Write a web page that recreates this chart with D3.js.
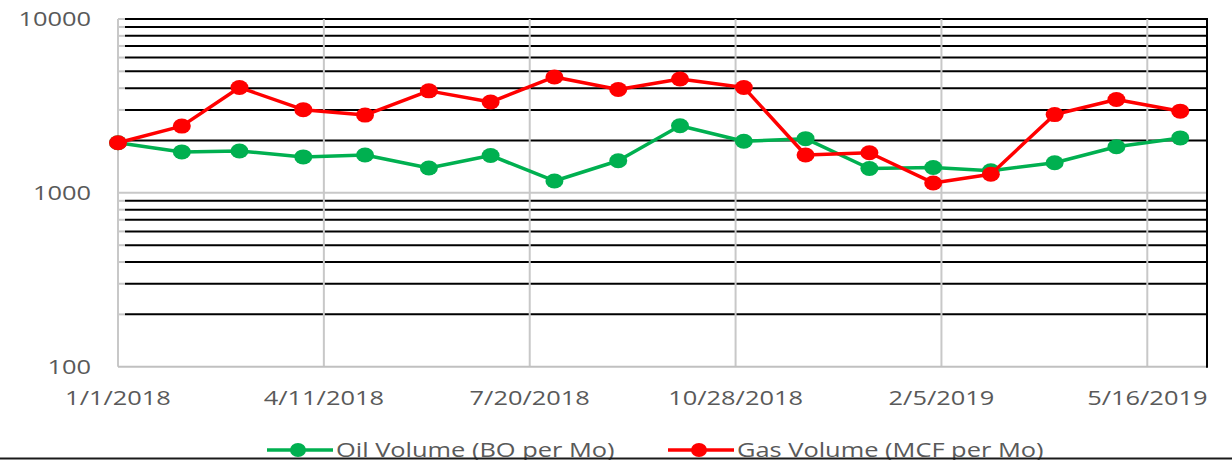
<!DOCTYPE html>
<html>
<head>
<meta charset="utf-8">
<script src="https://cdn.jsdelivr.net/npm/d3@7"></script>
<style>
  body { margin: 0; background: #fff; }
  svg { display: block; }
  text { font-family: "Open Sans", "Liberation Sans", sans-serif; fill: #595959; }
</style>
</head>
<body>
<script>
// monthly production, first of each month
var months = ["2018-01-01","2018-02-01","2018-03-01","2018-04-01","2018-05-01","2018-06-01",
              "2018-07-01","2018-08-01","2018-09-01","2018-10-01","2018-11-01","2018-12-01",
              "2019-01-01","2019-02-01","2019-03-01","2019-04-01","2019-05-01","2019-06-01"];
var oilVolume = [1940, 1720, 1740, 1610, 1650, 1390, 1640, 1170, 1530, 2430, 1980, 2050,
                 1380, 1400, 1340, 1490, 1840, 2070];
var gasVolume = [1940, 2420, 4040, 3010, 2800, 3860, 3330, 4640, 3930, 4520, 4040, 1650,
                 1700, 1140, 1280, 2820, 3440, 2950];
var seriesNames = ["Oil Volume (BO per Mo)", "Gas Volume (MCF per Mo)"];
var yTickLabels = [100, 1000, 10000];

var w = 1232, h = 460;
var plotL = 118, plotR = 1207, plotT = 19, plotB = 366.7;
var stretch = 1.27; //text in the picture is wide

var parse = d3.utcParse("%Y-%m-%d");
var startDate = parse("2018-01-01");
var endDate = d3.utcDay.offset(startDate, 529);

var svg = d3.select("body").append("svg")
    .attr("width", w)
    .attr("height", h);

var x = d3.scaleUtc().domain([startDate, endDate]).range([plotL, plotR]);
var y = d3.scaleLog().domain([100, 10000]).range([plotB, plotT]);

//x ticks every 100 days
var xTicks = d3.range(0, 600, 100).map(function(d){ return d3.utcDay.offset(startDate, d); });
var fmt = d3.utcFormat("%-m/%-d/%Y");

//minor gridlines (black)
var minor = y.ticks().filter(function(d){ return yTickLabels.indexOf(d) < 0; });
svg.append("g").selectAll("line")
    .data(minor)
    .enter().append("line")
    .attr("x1", plotL + 7).attr("x2", plotR)
    .attr("y1", function(d){ return y(d); })
    .attr("y2", function(d){ return y(d); })
    .style("stroke", "#000").style("stroke-width", 2);
//little grey minor ticks at left
svg.append("g").selectAll("line")
    .data(minor)
    .enter().append("line")
    .attr("x1", plotL).attr("x2", plotL + 7)
    .attr("y1", function(d){ return y(d); })
    .attr("y2", function(d){ return y(d); })
    .style("stroke", "#c8c8c8").style("stroke-width", 2);

//major gridline at 1000 (grey), top border black
svg.append("line")
    .attr("x1", plotL).attr("x2", plotR)
    .attr("y1", y(1000)).attr("y2", y(1000))
    .style("stroke", "#c8c8c8").style("stroke-width", 2);
svg.append("line")
    .attr("x1", plotL + 7).attr("x2", plotR + 1)
    .attr("y1", y(10000)).attr("y2", y(10000))
    .style("stroke", "#000").style("stroke-width", 2);
svg.append("line")
    .attr("x1", plotL).attr("x2", plotL + 7)
    .attr("y1", y(10000)).attr("y2", y(10000))
    .style("stroke", "#c8c8c8").style("stroke-width", 2);

//vertical gridlines
svg.append("g").selectAll("line")
    .data(xTicks)
    .enter().append("line")
    .attr("x1", function(d){ return x(d); })
    .attr("x2", function(d){ return x(d); })
    .attr("y1", plotT).attr("y2", plotB)
    .style("stroke", "#c8c8c8").style("stroke-width", 2);

//axes lines
svg.append("line")
    .attr("x1", plotL).attr("x2", plotR)
    .attr("y1", plotB).attr("y2", plotB)
    .style("stroke", "#c0c0c0").style("stroke-width", 2);
svg.append("line")
    .attr("x1", plotR).attr("x2", plotR)
    .attr("y1", plotT - 1).attr("y2", plotB + 1)
    .style("stroke", "#000").style("stroke-width", 2);

//y labels
svg.append("g").selectAll("text")
    .data(yTickLabels)
    .enter().append("text")
    .attr("transform", function(d){ return "translate(91," + y(d) + ") scale(" + stretch + ",1)"; })
    .attr("dy", "0.35em")
    .style("text-anchor", "end")
    .style("font-size", "20px")
    .text(function(d){ return d; });

//x labels
svg.append("g").selectAll("text")
    .data(xTicks)
    .enter().append("text")
    .attr("transform", function(d){ return "translate(" + x(d) + ",398) scale(" + stretch + ",1)"; })
    .attr("dy", "0.35em")
    .style("text-anchor", "middle")
    .style("font-size", "20px")
    .text(function(d){ return fmt(d); });

//series
var dates = months.map(parse);
var series = [
  {name: seriesNames[0], values: oilVolume, color: "#00b050"},
  {name: seriesNames[1], values: gasVolume, color: "#ff0000"}
];
var line = d3.line()
    .x(function(d, i){ return x(dates[i]); })
    .y(function(d){ return y(d); });

series.forEach(function(s){
  var g = svg.append("g");
  g.append("path")
    .attr("d", line(s.values))
    .style("fill", "none")
    .style("stroke", s.color)
    .style("stroke-width", 3.5)
    .style("stroke-linejoin", "round");
  g.selectAll("ellipse")
    .data(s.values)
    .enter().append("ellipse")
    .attr("cx", function(d, i){ return x(dates[i]); })
    .attr("cy", function(d){ return y(d); })
    .attr("rx", 9).attr("ry", 7.5)
    .style("fill", s.color);
});

//legend
var legendX = [267, 668];
series.forEach(function(s, i){
  var lg = svg.append("g").attr("transform", "translate(" + legendX[i] + ",450)");
  lg.append("line")
    .attr("x1", 0).attr("x2", 66)
    .style("stroke", s.color).style("stroke-width", 3.5);
  lg.append("ellipse")
    .attr("cx", 31).attr("cy", 0)
    .attr("rx", 8).attr("ry", 7)
    .style("fill", s.color);
  lg.append("text")
    .attr("transform", "translate(69,7) scale(" + stretch + ",1)")
    .style("font-size", "20px")
    .text(s.name);
});

//bottom rule
svg.append("line")
    .attr("x1", 0).attr("x2", w)
    .attr("y1", 458.5).attr("y2", 458.5)
    .style("stroke", "#1a1a1a").style("stroke-width", 2);
</script>
</body>
</html>
